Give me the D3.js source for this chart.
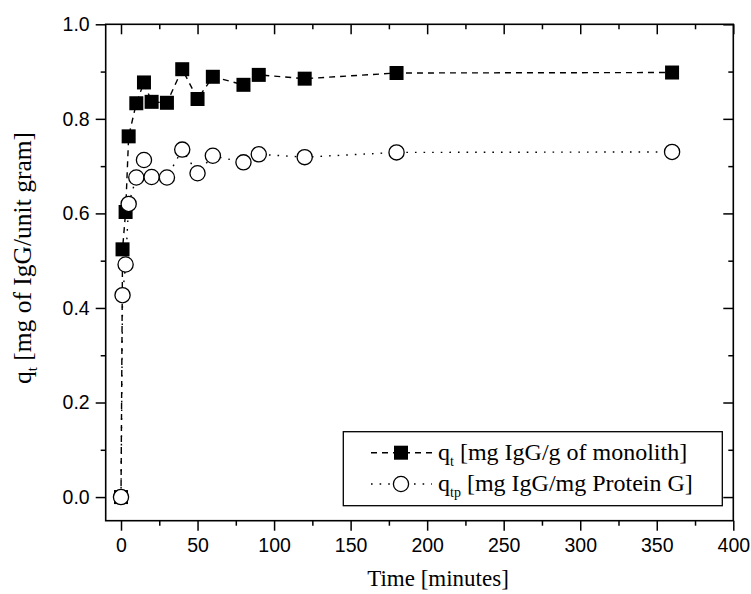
<!DOCTYPE html>
<html>
<head>
<meta charset="utf-8">
<script src="https://cdn.jsdelivr.net/npm/d3@7"></script>
<style>
  html, body { margin: 0; padding: 0; background: #fff; }
  svg { display: block; }
</style>
</head>
<body>
<svg id="chart" width="751" height="594"></svg>
<script>
// ---- data ----
const times = [0, 1, 3, 5, 10, 15, 20, 30, 40, 50, 60, 80, 90, 120, 180, 360];
const qt    = [0, 0.524, 0.603, 0.763, 0.833, 0.877, 0.836, 0.834, 0.905, 0.842, 0.889, 0.872, 0.893, 0.885, 0.897, 0.898];
const qtp   = [0, 0.427, 0.492, 0.620, 0.676, 0.713, 0.677, 0.676, 0.735, 0.685, 0.722, 0.708, 0.725, 0.719, 0.729, 0.730];
const xTicks = [0, 50, 100, 150, 200, 250, 300, 350, 400];
const yTicks = [0.0, 0.2, 0.4, 0.6, 0.8, 1.0];
const xLabel = "Time [minutes]";
const legendLabels = [["q", "t", " [mg IgG/g of monolith]"], ["q", "tp", " [mg IgG/mg Protein G]"]];

const svg = d3.select("#chart");
const L = 105.7, R = 733.3, T = 24.3, B = 520.7;
const x = d3.scaleLinear().domain([-10, 400]).range([L, R]);
const y = d3.scaleLinear().domain([-0.05, 1.0]).range([B, T]);

const sans = "'Liberation Sans', Arial, sans-serif";
const serif = "'Liberation Serif', 'Times New Roman', serif";

const xMinor = d3.range(25, 400, 50);
const yMinor = d3.range(0.1, 1.0, 0.2);

// bottom axis
svg.append("g").attr("transform", `translate(0,${B})`)
  .call(d3.axisBottom(x).tickValues(xTicks).tickSize(10).tickPadding(7).tickFormat(d3.format("d")));
svg.append("g").attr("transform", `translate(0,${B})`)
  .call(d3.axisBottom(x).tickValues(xMinor).tickSize(5).tickFormat(""));
// left axis
svg.append("g").attr("transform", `translate(${L},0)`)
  .call(d3.axisLeft(y).tickValues(yTicks).tickSize(10).tickPadding(6).tickFormat(d3.format(".1f")));
svg.append("g").attr("transform", `translate(${L},0)`)
  .call(d3.axisLeft(y).tickValues(yMinor).tickSize(5).tickFormat(""));
// top axis (inward)
svg.append("g").attr("transform", `translate(0,${T})`)
  .call(d3.axisBottom(x).tickValues(xTicks).tickSize(10).tickFormat(""));
svg.append("g").attr("transform", `translate(0,${T})`)
  .call(d3.axisBottom(x).tickValues(xMinor).tickSize(5).tickFormat(""));
// right axis (inward)
svg.append("g").attr("transform", `translate(${R},0)`)
  .call(d3.axisLeft(y).tickValues(yTicks).tickSize(10).tickFormat(""));
svg.append("g").attr("transform", `translate(${R},0)`)
  .call(d3.axisLeft(y).tickValues(yMinor).tickSize(5).tickFormat(""));

svg.selectAll(".domain").remove();
svg.selectAll(".tick line").attr("stroke", "#000").attr("stroke-width", 1.5);
svg.selectAll(".tick text").attr("font-family", sans).attr("font-size", 19.5).attr("fill", "#000");

// frame
svg.append("rect").attr("x", L).attr("y", T).attr("width", R - L).attr("height", B - T)
  .attr("fill", "none").attr("stroke", "#000").attr("stroke-width", 1.6);

// lines
const line1 = d3.line().x((d, i) => x(times[i])).y(d => y(d));
svg.append("path").datum(qt).attr("d", line1).attr("fill", "none")
  .attr("stroke", "#000").attr("stroke-width", 1.4).attr("stroke-dasharray", "6,5");
svg.append("path").datum(qtp).attr("d", line1).attr("fill", "none")
  .attr("stroke", "#000").attr("stroke-width", 1.4).attr("stroke-dasharray", "1.6,7");

// markers
const sq = 14, rc = 7.6;
svg.append("g").selectAll("rect").data(qt).join("rect")
  .attr("x", (d, i) => x(times[i]) - sq / 2).attr("y", d => y(d) - sq / 2)
  .attr("width", sq).attr("height", sq).attr("fill", "#000");
svg.append("g").selectAll("circle").data(qtp).join("circle")
  .attr("cx", (d, i) => x(times[i])).attr("cy", d => y(d)).attr("r", rc)
  .attr("fill", "#fff").attr("stroke", "#000").attr("stroke-width", 1.3);

// axis titles
svg.append("text").attr("x", 438).attr("y", 586).attr("text-anchor", "middle")
  .attr("font-family", serif).attr("font-size", 23).text(xLabel);

const yt = svg.append("text").attr("transform", "translate(31,258) rotate(-90)")
  .attr("text-anchor", "middle").attr("font-family", serif).attr("font-size", 25.5);
yt.append("tspan").text("q");
yt.append("tspan").attr("font-size", 15).attr("dy", 6).text("t");
yt.append("tspan").attr("dy", -6).text(" [mg of IgG/unit gram]");

// legend
svg.append("rect").attr("x", 343.3).attr("y", 431.7).attr("width", 379).attr("height", 74)
  .attr("fill", "#fff").attr("stroke", "#000").attr("stroke-width", 1.3);
const legY = [452.7, 484];
svg.append("line").attr("x1", 371).attr("x2", 432).attr("y1", legY[0]).attr("y2", legY[0])
  .attr("stroke", "#000").attr("stroke-width", 1.4).attr("stroke-dasharray", "6,5");
svg.append("rect").attr("x", 401 - sq / 2).attr("y", legY[0] - sq / 2).attr("width", sq).attr("height", sq).attr("fill", "#000");
svg.append("line").attr("x1", 371).attr("x2", 432).attr("y1", legY[1]).attr("y2", legY[1])
  .attr("stroke", "#000").attr("stroke-width", 1.4).attr("stroke-dasharray", "1.6,7");
svg.append("circle").attr("cx", 401).attr("cy", legY[1]).attr("r", rc)
  .attr("fill", "#fff").attr("stroke", "#000").attr("stroke-width", 1.3);

legendLabels.forEach((lab, i) => {
  const t = svg.append("text").attr("x", 438).attr("y", legY[i] + 7)
    .attr("font-family", serif).attr("font-size", 24);
  t.append("tspan").text(lab[0]);
  t.append("tspan").attr("font-size", 14).attr("dy", 6).text(lab[1]);
  t.append("tspan").attr("dy", -6).text(lab[2]);
});
</script>
</body>
</html>
